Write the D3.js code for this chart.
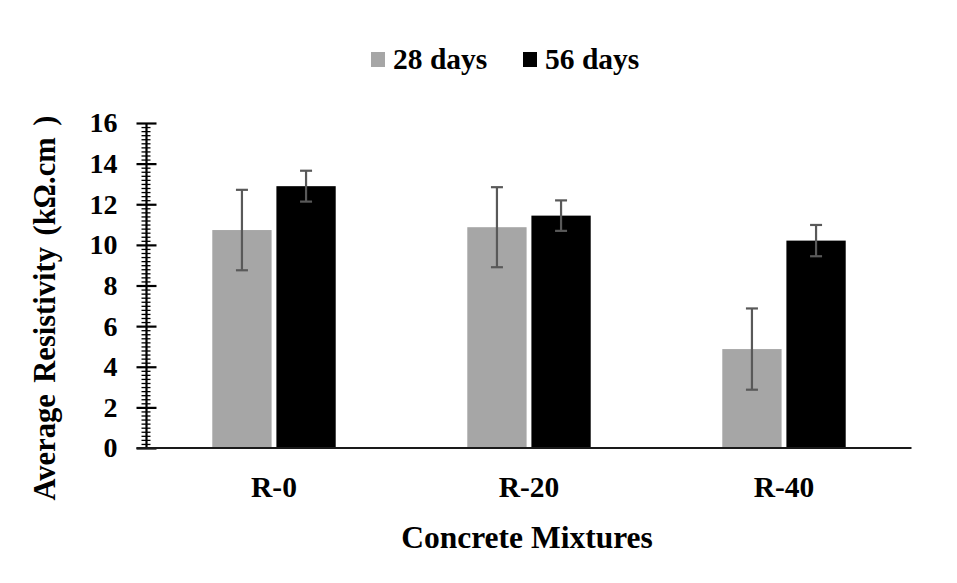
<!DOCTYPE html>
<html>
<head>
<meta charset="utf-8">
<script src="https://cdn.jsdelivr.net/npm/d3@7"></script>
<style>
  html, body { margin: 0; padding: 0; background: #fff; }
  svg text { font-family: "Liberation Serif", "Times New Roman", Times, "DejaVu Serif", serif !important; font-weight: bold; }
</style>
</head>
<body>
<svg id="chart" width="957" height="583"></svg>
<script>
// Mixtures and ages
const categories = ["R-0", "R-20", "R-40"];
const seriesNames = ["28 days", "56 days"];
// Average resistivity (kΩ.cm) and error (±) per mixture
const values28 = [10.73, 10.87, 4.87];
const values56 = [12.89, 11.44, 10.21];
const errors28 = [1.98, 1.97, 2.0];
const errors56 = [0.76, 0.75, 0.77];
const yTickValues = [0, 2, 4, 6, 8, 10, 12, 14, 16];

const colors = { "28 days": "#a6a6a6", "56 days": "#000000" };
const errColor = "#595959";

const svg = d3.select("#chart");
const plotLeft = 146.5, plotRight = 911.5, plotTop = 123, plotBottom = 448;

const y = d3.scaleLinear().domain([0, 16]).range([plotBottom, plotTop]);
const x0 = d3.scaleBand().domain(categories).range([plotLeft, plotRight])
  .paddingInner(0.516).paddingOuter(0.258);
const x1 = d3.scaleBand().domain(seriesNames).range([0, x0.bandwidth()])
  .paddingInner(0.075);

const rows = categories.map((c, i) => ({
  cat: c,
  items: [
    { s: "28 days", v: values28[i], e: errors28[i] },
    { s: "56 days", v: values56[i], e: errors56[i] }
  ]
}));

// Bars
const groups = svg.append("g").selectAll("g").data(rows).join("g")
  .attr("transform", d => `translate(${x0(d.cat)},0)`);

groups.selectAll("rect").data(d => d.items).join("rect")
  .attr("x", d => x1(d.s))
  .attr("y", d => y(d.v))
  .attr("width", x1.bandwidth())
  .attr("height", d => y(0) - y(d.v))
  .attr("fill", d => colors[d.s]);

// Error bars
const eb = groups.selectAll("g.err").data(d => d.items).join("g").attr("class", "err")
  .attr("stroke", errColor).attr("stroke-width", 2.2);
const cx = d => x1(d.s) + x1.bandwidth() / 2;
eb.append("line")
  .attr("x1", cx).attr("x2", cx)
  .attr("y1", d => y(d.v + d.e)).attr("y2", d => y(d.v - d.e));
eb.append("line")
  .attr("x1", d => cx(d) - 6).attr("x2", d => cx(d) + 6)
  .attr("y1", d => y(d.v + d.e)).attr("y2", d => y(d.v + d.e));
eb.append("line")
  .attr("x1", d => cx(d) - 6).attr("x2", d => cx(d) + 6)
  .attr("y1", d => y(d.v - d.e)).attr("y2", d => y(d.v - d.e));

// Y axis: minor ticks every 0.2
const minorVals = d3.range(0, 80).map(i => i * 0.2).filter((v, i) => i % 10 !== 0);
const minor = svg.append("g").attr("transform", `translate(${plotLeft},0)`)
  .call(d3.axisLeft(y).tickValues(minorVals).tickSize(5).tickFormat(""));
minor.select(".domain").remove();
minor.selectAll(".tick line").attr("x1", -5).attr("x2", 4).attr("stroke", "#000").attr("stroke-width", 1.3);

// Y axis: major ticks and labels
const yAxis = svg.append("g").attr("transform", `translate(${plotLeft},0)`)
  .call(d3.axisLeft(y).tickValues(yTickValues).tickSize(10).tickPadding(19).tickFormat(d3.format("d")));
yAxis.attr("font-family", null);
yAxis.select(".domain").attr("stroke", "#000").attr("stroke-width", 2.2)
  .attr("d", `M0,${plotBottom}V${plotTop}`);
yAxis.selectAll(".tick line").attr("x1", -10).attr("x2", 10).attr("stroke", "#000").attr("stroke-width", 2.2);
yAxis.selectAll(".tick text").attr("font-size", 28).attr("fill", "#000");

// X axis
const xAxis = svg.append("g").attr("transform", `translate(0,${plotBottom})`)
  .call(d3.axisBottom(x0).tickSize(0).tickPadding(28));
xAxis.attr("font-family", null);
xAxis.select(".domain").attr("stroke", "#1a1a1a").attr("stroke-width", 2.2)
  .attr("d", `M${plotLeft - 10},0H${plotRight}`);
xAxis.selectAll(".tick text").attr("font-size", 29.5).attr("fill", "#000");

// Axis titles
svg.append("text")
  .attr("x", 527).attr("y", 548)
  .attr("text-anchor", "middle").attr("font-size", 31.5).attr("fill", "#000")
  .text("Concrete Mixtures");

svg.append("text")
  .attr("transform", "translate(45,308) rotate(-90)")
  .attr("text-anchor", "middle").attr("dominant-baseline", "central")
  .attr("font-size", 30.5).attr("fill", "#000")
  .attr("word-spacing", 4)
  .text("Average Resistivity (kΩ.cm )");

// Legend
const legend = svg.append("g");
const legendX = [371, 523];
seriesNames.forEach((s, i) => {
  legend.append("rect").attr("x", legendX[i]).attr("y", 52).attr("width", 14).attr("height", 15)
    .attr("fill", colors[s]);
  legend.append("text").attr("x", legendX[i] + 22).attr("y", 69)
    .attr("font-size", 29.5).attr("fill", "#000").text(s);
});
</script>
</body>
</html>
